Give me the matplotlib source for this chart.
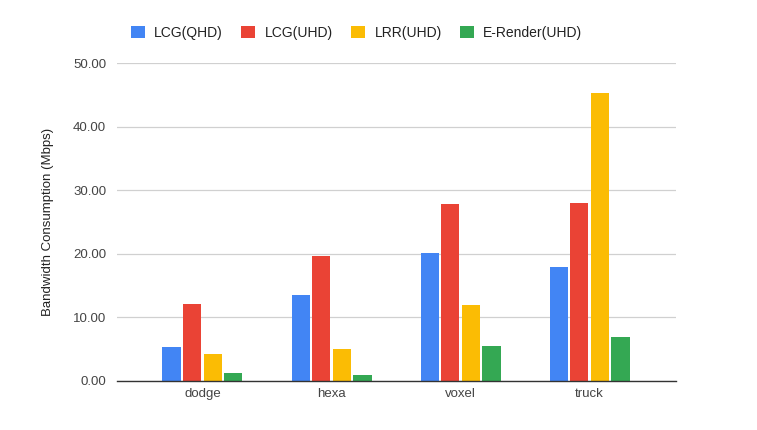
import numpy as np
import matplotlib.pyplot as plt

plt.rcParams['font.family'] = ['Liberation Sans', 'DejaVu Sans']

categories = ["dodge", "hexa", "voxel", "truck"]
series_names = ["LCG(QHD)", "LCG(UHD)", "LRR(UHD)", "E-Render(UHD)"]
lcg_qhd = [5.4, 13.6, 20.2, 18.0]
lcg_uhd = [12.15, 19.65, 27.8, 28.0]
lrr_uhd = [4.3, 5.0, 11.95, 45.3]
erender_uhd = [1.25, 0.9, 5.55, 6.95]
colors = ["#4285F4", "#EA4335", "#FBBC04", "#34A853"]

fig = plt.figure(figsize=(7.57, 4.30), dpi=100)
ax = fig.add_axes([0.155, 0.114, 0.738, 0.739])

x = np.arange(len(categories))
pitch = 0.16
width = 0.14
all_series = [lcg_qhd, lcg_uhd, lrr_uhd, erender_uhd]
for i, vals in enumerate(all_series):
    ax.bar(x + (i - 1.5) * pitch, vals, width, color=colors[i],
           label=series_names[i], zorder=3)

ax.set_xlim(-0.66, 3.67)
ax.set_ylim(0, 50)
ax.set_yticks(np.arange(0, 51, 10))
ax.set_yticklabels(["%.2f" % v for v in np.arange(0, 51, 10)])
ax.set_xticks(x)
ax.set_xticklabels(categories)
ax.yaxis.grid(True, color="#d0d0d0", linewidth=0.9, zorder=0)
for s in ["top", "right", "left"]:
    ax.spines[s].set_visible(False)
ax.spines["bottom"].set_color("#333333")
ax.spines["bottom"].set_linewidth(1.0)
ax.spines["bottom"].set_zorder(4)
ax.tick_params(axis="both", length=0, labelsize=9.5, labelcolor="#444444")
ax.tick_params(axis="y", pad=8)
ax.tick_params(axis="x", pad=5)
ax.set_ylabel("Bandwidth Consumption (Mbps)", fontsize=9.5, color="#222222", labelpad=14)

fig.legend(loc="center", bbox_to_anchor=(0.471, 0.924), ncol=4, frameon=False,
           fontsize=10, handlelength=1.0, handleheight=1.0, handletextpad=0.7,
           columnspacing=1.3, labelcolor="#222222")

fig.savefig("out.png", dpi=100)
